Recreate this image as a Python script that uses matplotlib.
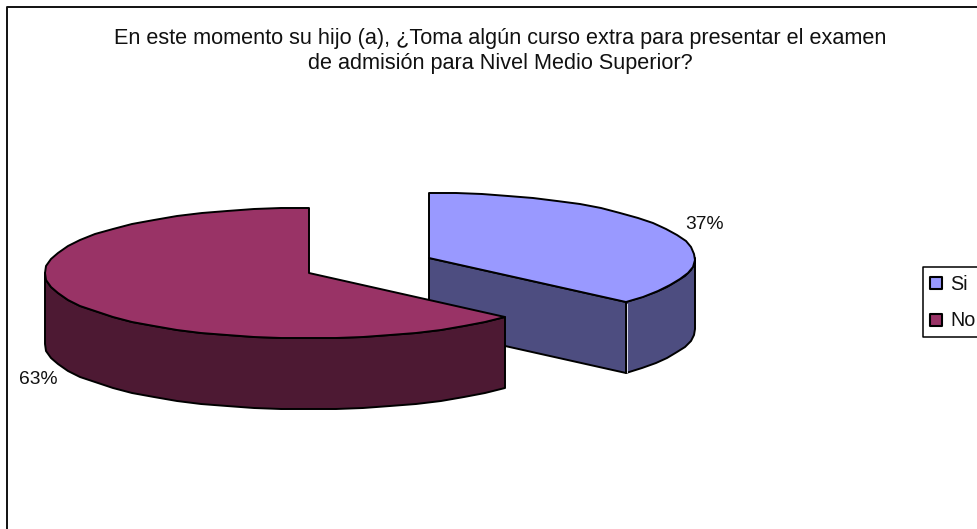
import matplotlib
matplotlib.use('Agg')
import matplotlib.pyplot as plt
import numpy as np

plt.rcParams['font.family'] = ['Liberation Sans', 'DejaVu Sans']

categories = ['Si', 'No']
values = [36.7, 63.3]
top_colors = ['#9999FF', '#993366']
side_colors = ['#4D4D80', '#4D1933']
title = ('En este momento su hijo (a), ¿Toma algún curso extra para presentar el examen\n'
         'de admisión para Nivel Medio Superior?')

depth = 71


def arc(cx, cy, rx, ry, a0, a1):
    # angles in degrees, clockwise from 12 o'clock, coarse steps and whole pixels like the old chart
    n = int(abs(a1 - a0) / 6) + 2
    t = np.radians(np.linspace(a0, a1, n))
    return np.round(np.column_stack([cx + rx * np.sin(t), cy - ry * np.cos(t)]))


fig = plt.figure(figsize=(9.77, 5.29), dpi=100)
ax = fig.add_axes([0, 0, 1, 1])
ax.set_xlim(0, 977)
ax.set_ylim(529, 0)
ax.axis('off')

# chart frame, cut by the picture on the right and at the bottom
ax.plot([6.5, 6.5, 977], [529, 6.5, 6.5], color='#111111', lw=1.4, solid_capstyle='butt')

split = 360 * values[0] / sum(values)
line = dict(edgecolor='black', linewidth=1.4, joinstyle='round')

# Si slice
cx, cy, rx, ry = 429, 258, 266, 65
edge = arc(cx, cy, rx, ry, 0, split)
corner = edge[-1]
outer = arc(cx, cy, rx, ry, 90, split)
ax.fill(*np.vstack([outer, outer[::-1] + [0, depth]]).T, facecolor=side_colors[0], **line)
cut = np.array([[cx, cy], corner, corner + [0, depth], [cx, cy + depth]])
ax.fill(*cut.T, facecolor=side_colors[0], **line)
ax.plot([corner[0] + 1.2] * 2, [corner[1] + 2, corner[1] + depth - 1], color='#D8D8E8', lw=0.7)
ax.fill(*np.vstack([[[cx, cy]], edge]).T, facecolor=top_colors[0], **line)

# No slice
cx, cy, rx, ry = 309, 273, 264, 65.5
edge = arc(cx, cy, rx, ry, split, 360)
front = arc(cx, cy, rx, ry, split, 270)
ax.fill(*np.vstack([front, front[::-1] + [0, depth]]).T, facecolor=side_colors[1], **line)
ax.fill(*np.vstack([[[cx, cy]], edge]).T, facecolor=top_colors[1], **line)

# title and percentages
ax.text(500, 51, title, ha='center', va='center', fontsize=15.55, linespacing=1.3, color='#111111')
ax.text(705, 224.5, f'{values[0]:.0f}%', ha='center', va='center', fontsize=13.9, color='#111111')
ax.text(38.5, 379, f'{values[1]:.0f}%', ha='center', va='center', fontsize=13.9, color='#111111')

# legend
ax.plot([1000, 922.5, 922.5, 1000], [266.5, 266.5, 337, 337], color='black', lw=1.1, clip_on=True)
for y, name, color in zip([283, 320], categories, top_colors):
    ax.scatter([936], [y], s=75, marker='s', facecolor=color, edgecolor='black', linewidth=1.5)
    ax.text(950.5, y + 1, name, ha='left', va='center', fontsize=14.2, color='#111111')

fig.savefig('out.png', dpi=100)
